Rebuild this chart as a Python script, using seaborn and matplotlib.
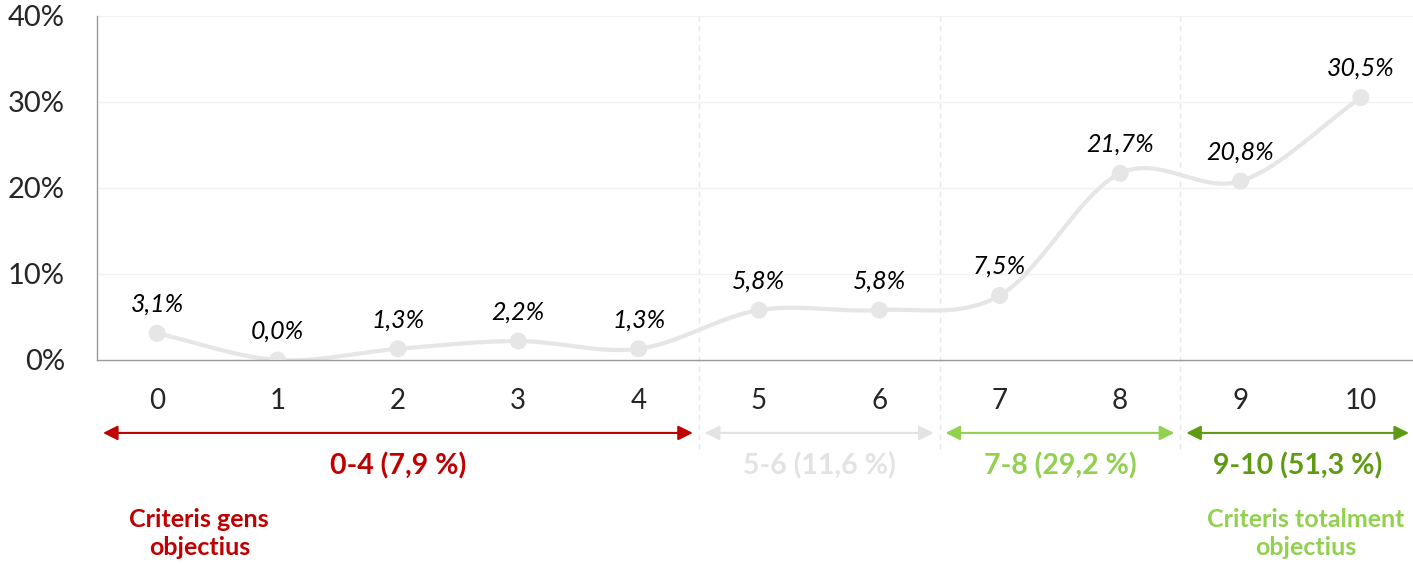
import numpy as np
import pandas as pd
import seaborn as sns
import matplotlib.pyplot as plt
import matplotlib.transforms as mtransforms

scores = list(range(11))
pct = [3.1, 0.0, 1.3, 2.2, 1.3, 5.8, 5.8, 7.5, 21.7, 20.8, 30.5]
labels = ['3,1%', '0,0%', '1,3%', '2,2%', '1,3%', '5,8%', '5,8%', '7,5%', '21,7%', '20,8%', '30,5%']

groups = ['0-4 (7,9 %)', '5-6 (11,6 %)', '7-8 (29,2 %)', '9-10 (51,3 %)']
group_bounds = [(-0.45, 4.45), (4.55, 6.45), (6.55, 8.45), (8.55, 10.4)]
group_colors = ['#C00000', '#E3E3E3', '#92D050', '#5E9A12']

LINE = '#E6E6E6'


def smooth(x, y, n=30):
    # catmull-rom style smoothing, like the excel "smoothed line" option
    x = np.asarray(x, float)
    y = np.asarray(y, float)
    px = np.concatenate([[2 * x[0] - x[1]], x, [2 * x[-1] - x[-2]]])
    py = np.concatenate([[2 * y[0] - y[1]], y, [2 * y[-1] - y[-2]]])
    xs, ys = [], []
    t = np.linspace(0, 1, n)
    for i in range(1, len(px) - 2):
        p0, p1, p2, p3 = py[i - 1], py[i], py[i + 1], py[i + 2]
        ys.append(0.5 * ((2 * p1) + (-p0 + p2) * t + (2 * p0 - 5 * p1 + 4 * p2 - p3) * t ** 2
                         + (-p0 + 3 * p1 - 3 * p2 + p3) * t ** 3))
        xs.append(px[i] + (px[i + 1] - px[i]) * t)
    return np.concatenate(xs), np.concatenate(ys)


sns.set_style('white')
plt.rcParams['font.family'] = ['Lato', 'DejaVu Sans']

fig = plt.figure(figsize=(14.13, 5.64), dpi=100)
ax = fig.add_axes([97 / 1413, 204 / 564, 1324 / 1413, 344 / 564])

df = pd.DataFrame({'score': scores, 'pct': np.array(pct) / 100})
sx, sy = smooth(scores, df.pct)
curve = pd.DataFrame({'x': sx, 'y': sy})

sns.lineplot(data=curve, x='x', y='y', ax=ax, color=LINE, linewidth=3, sort=False)
sns.scatterplot(data=df, x='score', y='pct', ax=ax, color=LINE, s=150, edgecolor='none', zorder=3)

for x, y, lab in zip(scores, df.pct, labels):
    ax.annotate(lab, (x, y), xytext=(0, 21), textcoords='offset points',
                ha='center', va='center', fontsize=18, style='italic', color='black')

ax.set_xlim(-0.5, 10.5)
ax.set_ylim(0, 0.4)
ax.set_yticks([0, 0.1, 0.2, 0.3, 0.4])
ax.set_yticklabels(['0%', '10%', '20%', '30%', '40%'], fontsize=21)
ax.set_xticks(scores)
ax.set_xticklabels([str(s) for s in scores], fontsize=20)
ax.set_xticks(np.arange(-0.5, 10.5, 1), minor=True)
ax.tick_params(axis='x', which='major', length=0, pad=20)
ax.tick_params(axis='x', which='minor', length=10, color='#999999', width=1)
ax.tick_params(axis='y', length=9, color='#999999', width=1, pad=14)
ax.set_xlabel('')
ax.set_ylabel('')

for s in ['top', 'right']:
    ax.spines[s].set_visible(False)
for s in ['left', 'bottom']:
    ax.spines[s].set_color('#999999')
    ax.spines[s].set_linewidth(1)

for yv in [0.1, 0.2, 0.3, 0.4]:
    ax.axhline(yv, color='#F2F2F2', linewidth=1, zorder=0)

trans = mtransforms.blended_transform_factory(ax.transData, ax.transAxes)
for b in [4.5, 6.5, 8.5]:
    ax.plot([b, b], [-0.26, 1.0], transform=trans, color='#E8E8E8', linewidth=1,
            linestyle=(0, (4, 3)), clip_on=False, zorder=0)

for (lo, hi), name, col in zip(group_bounds, groups, group_colors):
    ax.annotate('', xy=(lo, -0.212), xytext=(hi, -0.212),
                xycoords=trans, textcoords=trans,
                arrowprops=dict(arrowstyle='<|-|>', color=col, lw=1.5,
                                mutation_scale=22, shrinkA=0, shrinkB=0))
    ax.text((lo + hi) / 2, -0.308, name, transform=trans, ha='center', va='center',
            fontsize=20.5, fontweight='bold', color=col)

ax.text(0.35, -0.505, 'Criteris gens\nobjectius', transform=trans, ha='center', va='center',
        fontsize=18, fontweight='bold', color='#C00000', linespacing=1.25)
ax.text(9.54, -0.505, 'Criteris totalment\nobjectius', transform=trans, ha='center', va='center',
        fontsize=18, fontweight='bold', color='#92D050', linespacing=1.25)

fig.savefig('out.png', dpi=100)
